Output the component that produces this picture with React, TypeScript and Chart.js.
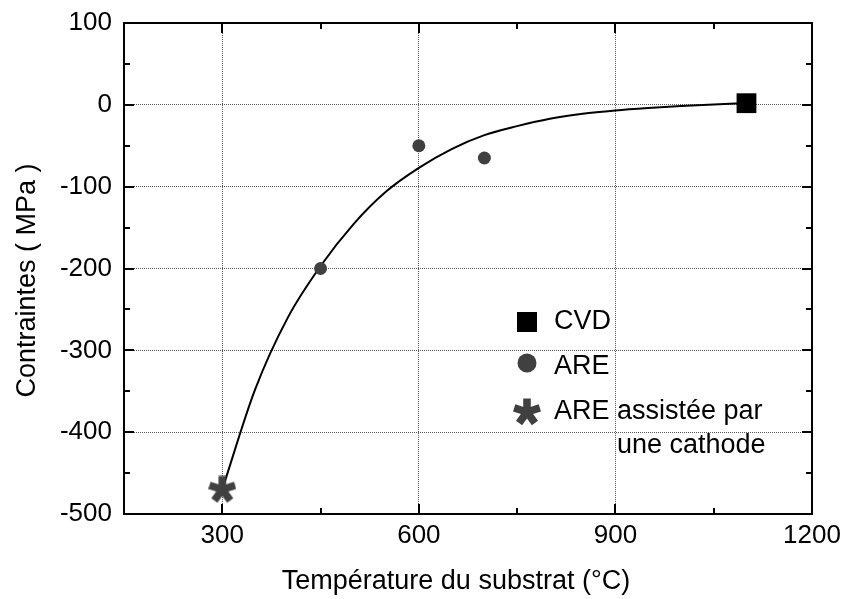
import React, { useEffect, useRef } from "react";
import { Chart, registerables } from "chart.js";

Chart.register(...registerables);

// ---- data ----
const CVD_X = [1100];
const CVD_Y = [2];
const ARE_X = [450, 600, 700];
const ARE_Y = [-200, -50, -65];
const CATH_X = [300];
const CATH_Y = [-470];
const FIT_X = [300, 350, 400, 450, 500, 550, 600, 650, 700, 750, 800, 850, 900, 950, 1000, 1050, 1100];
const FIT_Y = [-470, -348, -260, -197, -146, -106, -77, -54, -37, -26, -17, -11, -7, -4, -1.5, 0.5, 2];
const X_TICKS = [300, 600, 900, 1200];
const Y_TICKS = [100, 0, -100, -200, -300, -400, -500];
const X_MINOR = [450, 750, 1050];
const Y_MINOR = [50, -50, -150, -250, -350, -450];
const LEGEND_LABELS = ["CVD", "ARE", "ARE assistée par", "une cathode"];
const X_TITLE = "Température du substrat (°C)";
const Y_TITLE = "Contraintes ( MPa )";

const FONT = "'Liberation Sans', Arial, Helvetica, sans-serif";
const GREY = "#404040";

function makeStar(size: number, color: string) {
  const c = document.createElement("canvas");
  c.width = size;
  c.height = size;
  const ctx = c.getContext("2d")!;
  ctx.strokeStyle = color;
  ctx.lineWidth = size * 0.27;
  ctx.lineCap = "butt";
  const cx = size / 2, cy = size / 2, r = size / 2 - 0.5;
  for (let i = 0; i < 5; i++) {
    const a = -Math.PI / 2 + (i * 2 * Math.PI) / 5;
    ctx.beginPath();
    ctx.moveTo(cx, cy);
    ctx.lineTo(cx + r * Math.cos(a), cy + r * Math.sin(a));
    ctx.stroke();
  }
  return c;
}

const zip = (xs: number[], ys: number[]) => xs.map((x, i) => ({ x, y: ys[i] }));

export default function App() {
  const ref = useRef<HTMLCanvasElement | null>(null);

  useEffect(() => {
    if (!ref.current) return;
    const star = makeStar(28, GREY);

    const framePlugin = {
      id: "frame",
      afterDatasetsDraw(chart: any) {
        const { ctx, chartArea: a, scales } = chart;
        const xs = scales.x, ys = scales.y;
        ctx.save();
        ctx.strokeStyle = "#000";
        ctx.lineWidth = 2;
        ctx.strokeRect(a.left, a.top, a.right - a.left, a.bottom - a.top);
        const major = 10, minor = 6;
        ctx.beginPath();
        const xt = (v: number, len: number) => {
          const px = Math.round(xs.getPixelForValue(v));
          ctx.moveTo(px, a.bottom);
          ctx.lineTo(px, a.bottom - len);
          ctx.moveTo(px, a.top);
          ctx.lineTo(px, a.top + len);
        };
        const yt = (v: number, len: number) => {
          const py = Math.round(ys.getPixelForValue(v));
          ctx.moveTo(a.left, py);
          ctx.lineTo(a.left + len, py);
          ctx.moveTo(a.right, py);
          ctx.lineTo(a.right - len, py);
        };
        X_TICKS.forEach((v) => xt(v, major));
        X_MINOR.forEach((v) => xt(v, minor));
        Y_TICKS.forEach((v) => yt(v, major));
        Y_MINOR.forEach((v) => yt(v, minor));
        ctx.stroke();
        ctx.restore();
      },
      afterDraw(chart: any) {
        const { ctx, chartArea: a } = chart;
        const mx = a.left + 403;
        const tx = a.left + 430;
        ctx.save();
        ctx.font = `27px ${FONT}`;
        ctx.textAlign = "left";
        ctx.textBaseline = "middle";
        // CVD
        ctx.fillStyle = "#000";
        ctx.fillRect(mx - 10, a.top + 299 - 10, 20, 20);
        ctx.fillText(LEGEND_LABELS[0], tx, a.top + 299);
        // ARE
        ctx.fillStyle = GREY;
        ctx.beginPath();
        ctx.arc(mx, a.top + 340, 9.5, 0, Math.PI * 2);
        ctx.fill();
        ctx.fillStyle = "#000";
        ctx.fillText(LEGEND_LABELS[1], tx, a.top + 344);
        // star
        ctx.drawImage(star, mx - 14, a.top + 389 - 14, 28, 28);
        ctx.fillText(LEGEND_LABELS[2], tx, a.top + 389);
        ctx.fillText(LEGEND_LABELS[3], a.left + 493, a.top + 423);
        // x axis title
        ctx.textAlign = "center";
        ctx.fillText(X_TITLE, (a.left + a.right) / 2 - 12, a.bottom + 68);
        // y axis title
        ctx.translate(28, (a.top + a.bottom) / 2 + 12);
        ctx.rotate(-Math.PI / 2);
        ctx.fillText(Y_TITLE, 0, 0);
        ctx.restore();
      },
    };

    const gridColor = "#555";

    const chart = new Chart(ref.current, {
      type: "scatter",
      data: {
        datasets: [
          {
            label: "CVD",
            data: zip(CVD_X, CVD_Y),
            pointStyle: "rect",
            pointRadius: 14,
            backgroundColor: "#000",
            borderColor: "#000",
            borderWidth: 0,
          },
          {
            label: "ARE",
            data: zip(ARE_X, ARE_Y),
            pointStyle: "circle",
            pointRadius: 6.5,
            backgroundColor: GREY,
            borderColor: GREY,
            borderWidth: 0,
          },
          {
            label: "ARE assistée par une cathode",
            data: zip(CATH_X, CATH_Y),
            pointStyle: star as any,
            pointRadius: 14,
          },
          {
            type: "line",
            label: "fit",
            data: zip(FIT_X, FIT_Y),
            borderColor: "#000",
            borderWidth: 2,
            pointRadius: 0,
            fill: false,
            showLine: true,
            cubicInterpolationMode: "monotone",
          } as any,
        ],
      },
      options: {
        animation: false,
        responsive: true,
        maintainAspectRatio: false,
        layout: { padding: { top: 23, right: 31, left: 0, bottom: 0 } },
        plugins: { legend: { display: false }, tooltip: { enabled: false } },
        scales: {
          x: {
            type: "linear",
            min: 150,
            max: 1200,
            afterBuildTicks: (s: any) => {
              s.ticks = X_TICKS.map((v) => ({ value: v }));
            },
            afterFit: (s: any) => {
              s.height = 85;
              s.paddingLeft = 0;
              s.paddingRight = 0;
            },
            grid: {
              drawTicks: false,
              color: (c: any) => (c.tick && c.tick.value === 1200 ? "rgba(0,0,0,0)" : gridColor),
              lineWidth: 1,
            },
            border: { display: false, dash: [1, 1] },
            ticks: {
              padding: 6,
              color: "#000",
              font: { family: FONT, size: 26 },
              maxRotation: 0,
              callback: (v: any) => String(v),
            },
            title: { display: false },
          },
          y: {
            type: "linear",
            min: -500,
            max: 100,
            afterBuildTicks: (s: any) => {
              s.ticks = Y_TICKS.map((v) => ({ value: v }));
            },
            afterFit: (s: any) => {
              s.width = 124;
              s.paddingTop = 0;
              s.paddingBottom = 0;
            },
            grid: {
              drawTicks: false,
              color: (c: any) =>
                c.tick && (c.tick.value === 100 || c.tick.value === -500) ? "rgba(0,0,0,0)" : gridColor,
              lineWidth: 1,
            },
            border: { display: false, dash: [1, 1] },
            ticks: {
              padding: 12,
              color: "#000",
              font: { family: FONT, size: 26 },
              callback: (v: any) => String(v),
            },
            title: { display: false },
          },
        },
      },
      plugins: [framePlugin],
    } as any);

    return () => chart.destroy();
  }, []);

  return (
    <div style={{ position: "fixed", left: 0, top: 0, width: 843, height: 599, background: "#fff" }}>
      <canvas ref={ref} />
    </div>
  );
}
